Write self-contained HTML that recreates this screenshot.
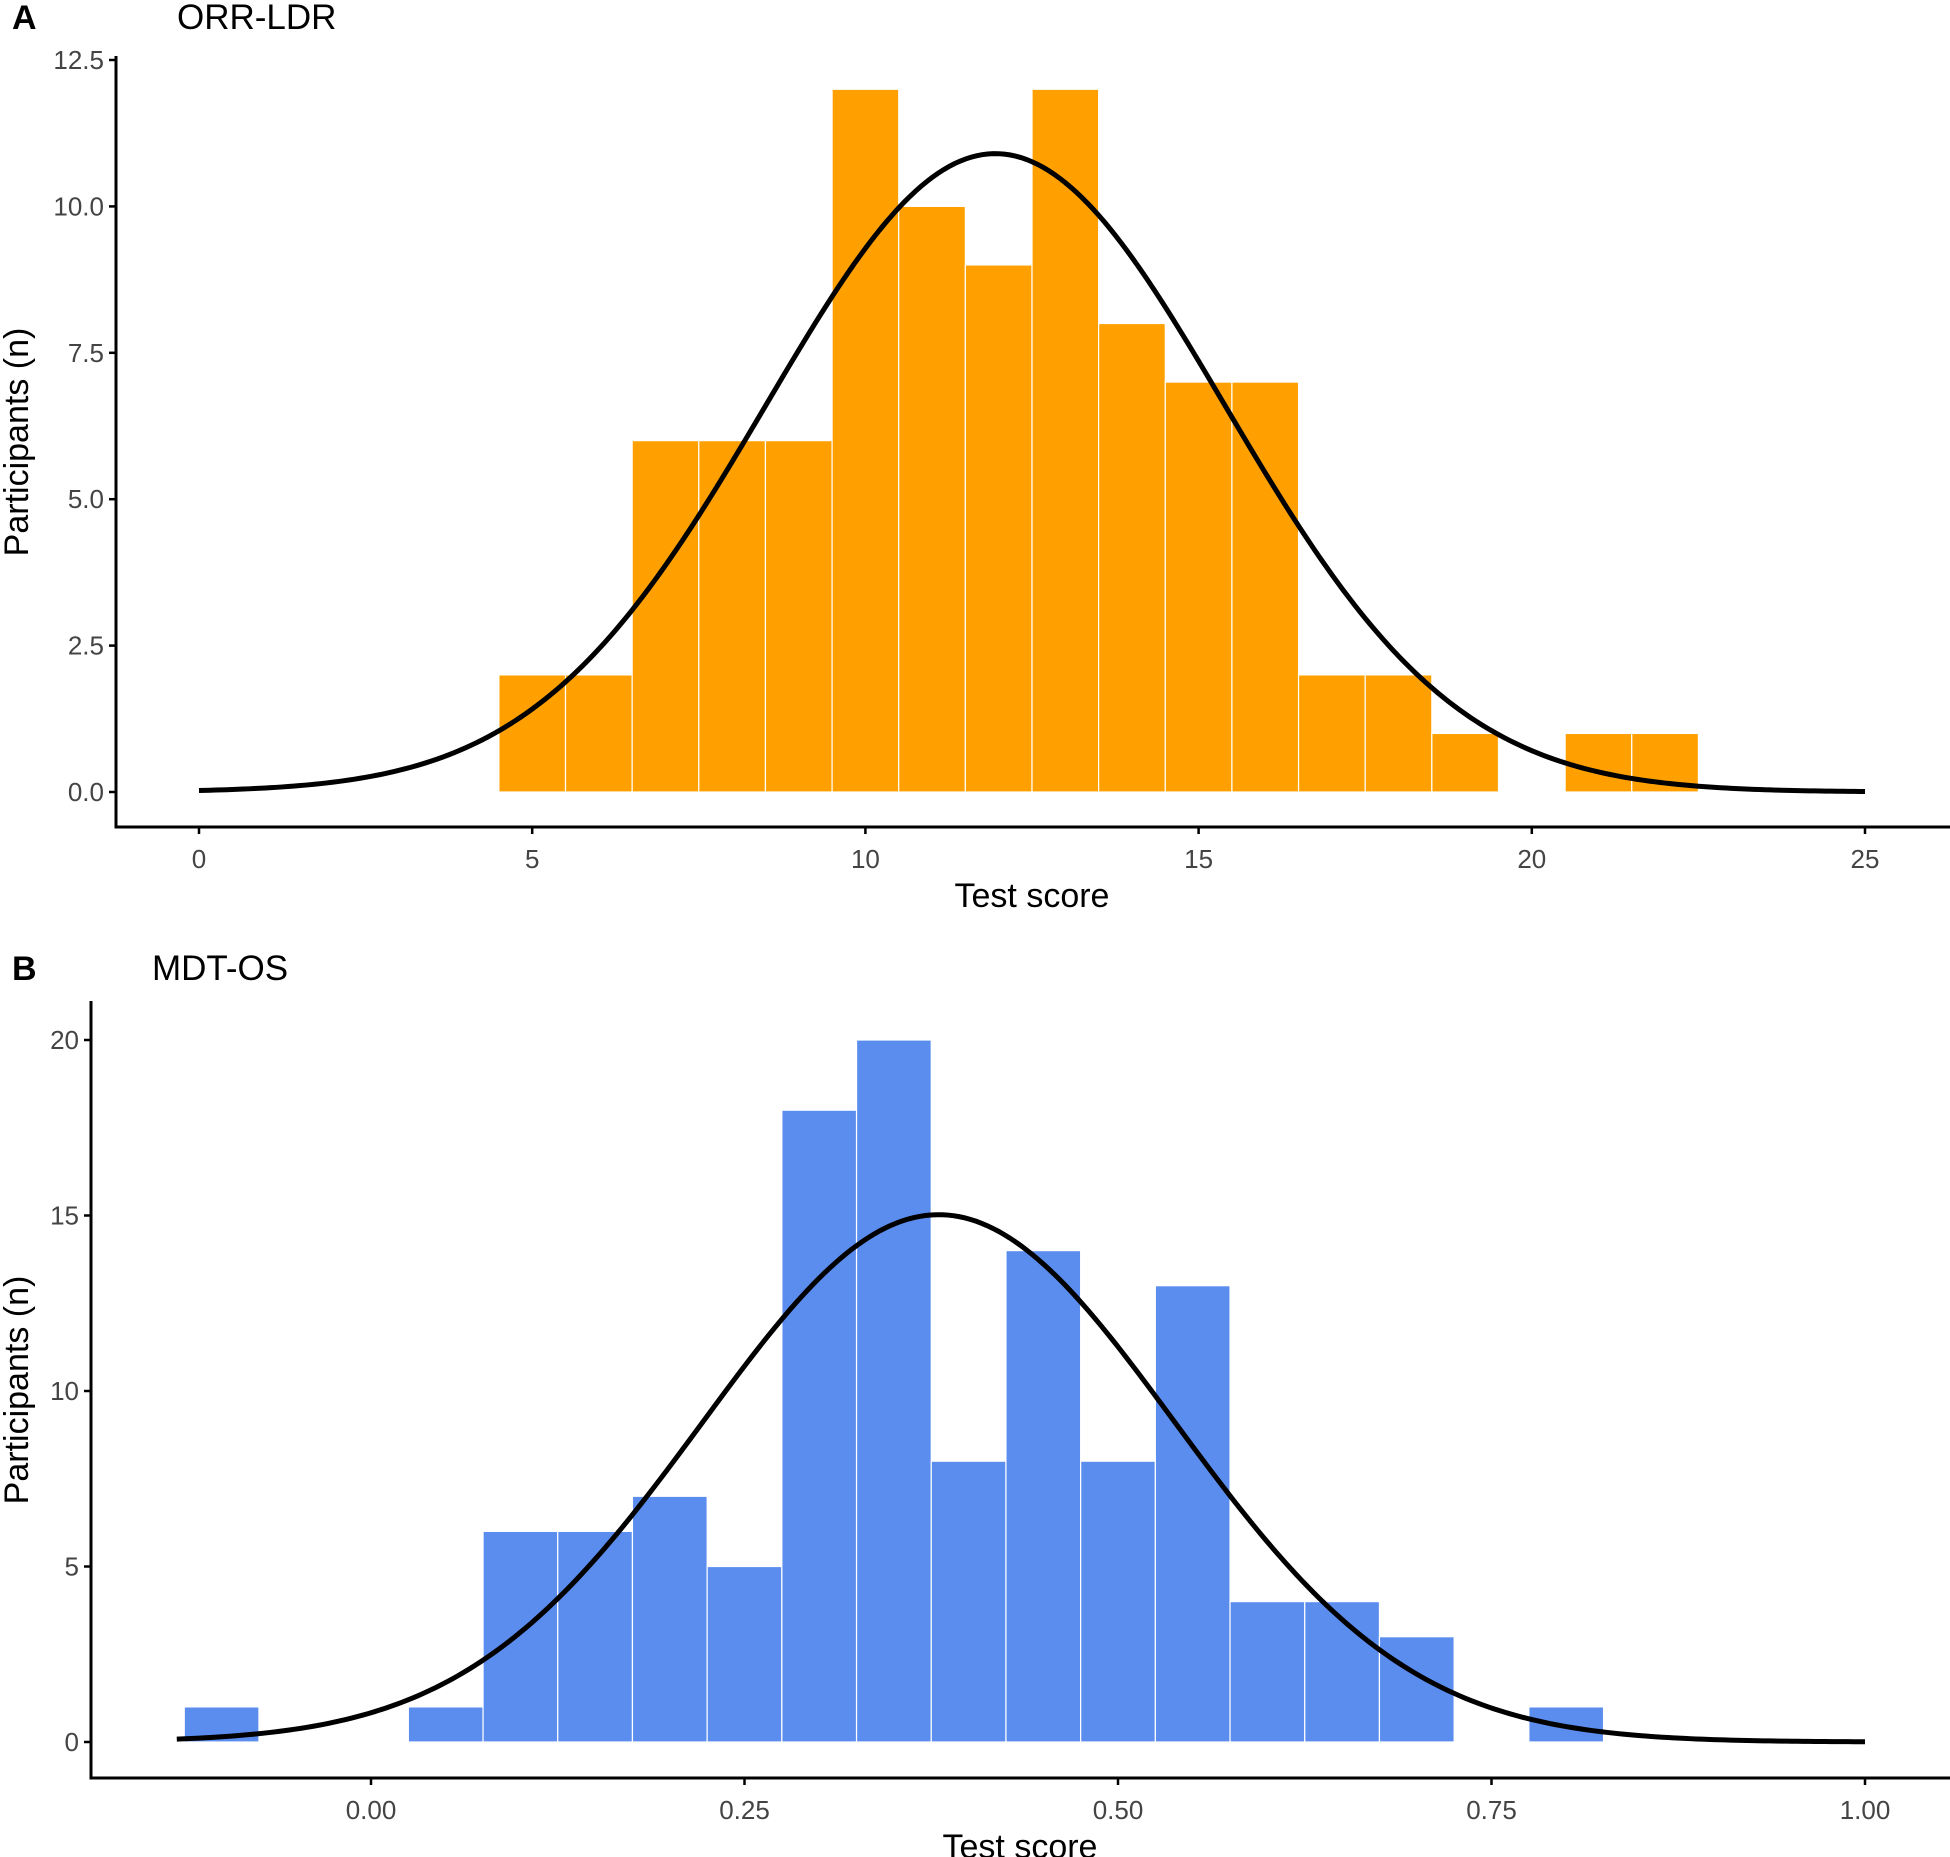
<!DOCTYPE html>
<html><head><meta charset="utf-8"><style>
html,body{margin:0;padding:0;background:#fff;}
svg{display:block;font-family:"Liberation Sans",Arial,sans-serif;}
</style></head><body>
<svg id="fig" width="1950" height="1857" viewBox="0 0 1950 1857"></svg>
<script>
// Panel A data
const aBinCenters = [5,6,7,8,9,10,11,12,13,14,15,16,17,18,19,20,21,22];
const aCounts = [2,2,6,6,6,12,10,9,12,8,7,7,2,2,1,0,1,1];
const aBinWidth = 1;
const aXTicks = [0,5,10,15,20,25];
const aXTickLabels = ["0","5","10","15","20","25"];
const aYTicks = [0,2.5,5,7.5,10,12.5];
const aYTickLabels = ["0.0","2.5","5.0","7.5","10.0","12.5"];
const aFit = [11.95, 3.44, 94]; // mean, sd, n
const aCurveRange = [0,25];
// Panel B data
const bBinCenters = [-0.1,-0.05,0,0.05,0.1,0.15,0.2,0.25,0.3,0.35,0.4,0.45,0.5,0.55,0.6,0.65,0.7,0.75,0.8];
const bCounts = [1,0,0,1,6,6,7,5,18,20,8,14,8,13,4,4,3,0,1];
const bBinWidth = 0.05;
const bXTicks = [0,0.25,0.5,0.75,1];
const bXTickLabels = ["0.00","0.25","0.50","0.75","1.00"];
const bYTicks = [0,5,10,15,20];
const bYTickLabels = ["0","5","10","15","20"];
const bFit = [0.38, 0.158, 119];
const bCurveRange = [-0.13,1.0];

const NS="http://www.w3.org/2000/svg";
const svg=document.getElementById('fig');
function mk(tag,attrs,parent){const e=document.createElementNS(NS,tag);for(const k in attrs)e.setAttribute(k,attrs[k]);(parent||svg).appendChild(e);return e;}

function panel(cfg){
  const g=mk('g',{});
  
  
  const sx=v=>cfg.x0+(v-cfg.xv0)/(cfg.xv1-cfg.xv0)*(cfg.x1-cfg.x0);
  const sy=v=>cfg.y0-(v-cfg.yv0)/(cfg.yv1-cfg.yv0)*(cfg.y0-cfg.y1);
  cfg.centers.forEach((c,i)=>{
    if(cfg.counts[i]<=0)return;
    const l=sx(c-cfg.bw/2), r=sx(c+cfg.bw/2);
    const b=mk('rect',{x:l,y:sy(cfg.counts[i]),width:r-l,height:sy(0)-sy(cfg.counts[i]),fill:cfg.color,stroke:'#fff','stroke-width':1.2},g);
    
    
  });
  const [mu,sd,n]=cfg.fit;
  let d='';
  const N=300;
  for(let k=0;k<=N;k++){
    const xv=cfg.cr[0]+(cfg.cr[1]-cfg.cr[0])*k/N;
    const yv=n*cfg.bw/(sd*Math.sqrt(2*Math.PI))*Math.exp(-0.5*((xv-mu)/sd)**2);
    d+=(k?'L':'M')+sx(xv).toFixed(2)+','+sy(yv).toFixed(2);
  }
  const p=mk('path',{d:d,fill:'none',stroke:'#000','stroke-width':5},g);
  
  
  const ya=mk('line',{x1:cfg.ax,y1:cfg.axTop,x2:cfg.ax,y2:cfg.axLine+1.5,stroke:'#000','stroke-width':3},g);
  
  
  const xa=mk('line',{x1:cfg.ax-1.5,y1:cfg.axLine,x2:1950,y2:cfg.axLine,stroke:'#000','stroke-width':3},g);
  
  
  cfg.yt.forEach((v,i)=>{
    mk('line',{x1:cfg.ax-7,y1:sy(v),x2:cfg.ax,y2:sy(v),stroke:'#000','stroke-width':2.5},g);
    const t=mk('text',{x:cfg.ax-12,y:sy(v)+9,'text-anchor':'end','font-size':26,fill:'#444'},g);
    t.textContent=cfg.ytl[i];
    
    
  });
  cfg.xt.forEach((v,i)=>{
    mk('line',{x1:sx(v),y1:cfg.axLine,x2:sx(v),y2:cfg.axLine+7,stroke:'#000','stroke-width':2.5},g);
    const t=mk('text',{x:sx(v),y:cfg.axLine+41,'text-anchor':'middle','font-size':26,fill:'#444'},g);
    t.textContent=cfg.xtl[i];
    
    
  });
  const xt=mk('text',{x:cfg.xtitleX,y:cfg.axLine+80,'text-anchor':'middle','font-size':34,fill:'#000'},g);
  xt.textContent='Test score';
  
  
  const yt=mk('text',{x:0,y:0,'text-anchor':'middle','font-size':34,fill:'#000',transform:`translate(28,${cfg.ytitleY}) rotate(-90)`},g);
  yt.textContent='Participants (n)';
  
  
  const lab=mk('text',{x:12,y:cfg.titleY,'font-size':34,'font-weight':'bold',fill:'#000'},g);
  lab.textContent=cfg.letter;
  
  
  const ti=mk('text',{x:cfg.titleX,y:cfg.titleY,'font-size':35,fill:'#000'},g);
  ti.textContent=cfg.title;
  
  
}

panel({name:'panel-a',letter:'A',title:'ORR-LDR',titleX:177,titleY:29,color:'#FFA000',
  centers:aBinCenters,counts:aCounts,bw:aBinWidth,fit:aFit,cr:aCurveRange,
  xt:aXTicks,xtl:aXTickLabels,yt:aYTicks,ytl:aYTickLabels,
  x0:199,xv0:0,x1:1865,xv1:25,y0:792,yv0:0,y1:60,yv1:12.5,
  ax:116,axTop:56,axLine:827,xtitleX:1032,ytitleY:442});
panel({name:'panel-b',letter:'B',title:'MDT-OS',titleX:152,titleY:980,color:'#5B8DEF',
  centers:bBinCenters,counts:bCounts,bw:bBinWidth,fit:bFit,cr:bCurveRange,
  xt:bXTicks,xtl:bXTickLabels,yt:bYTicks,ytl:bYTickLabels,
  x0:371,xv0:0,x1:1865,xv1:1,y0:1742,yv0:0,y1:1040,yv1:20,
  ax:91,axTop:1001,axLine:1778,xtitleX:1020,ytitleY:1390});
</script>
</body></html>
